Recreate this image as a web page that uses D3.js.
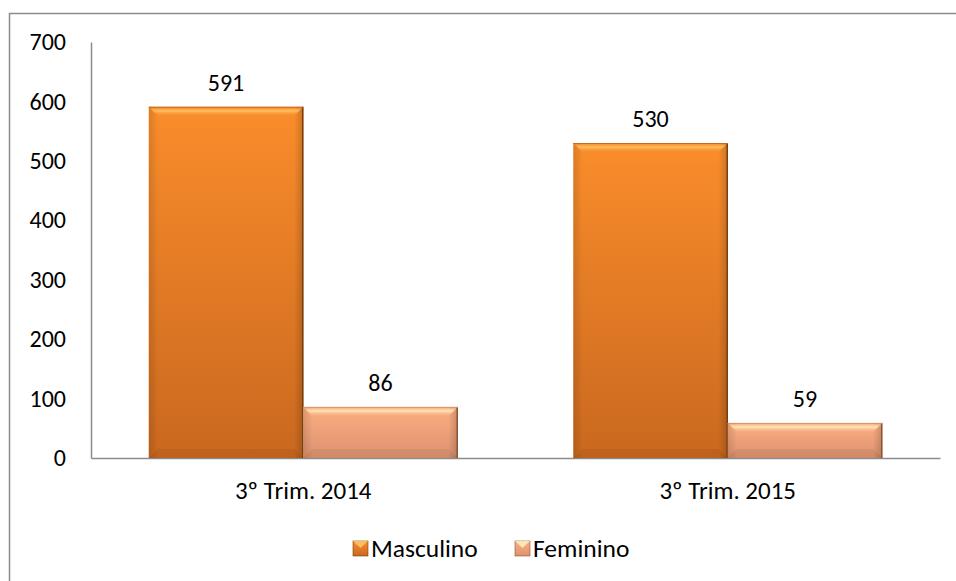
<!DOCTYPE html>
<meta charset="utf-8">
<title>Masculino / Feminino</title>

<style>
body { margin: 0; background: #fff; }
text { font-family: Carlito, Calibri, Lato, sans-serif; fill: #000; }
.axis path { stroke: #8c8c8c; stroke-width: 1.5; }
.axis text { font-size: 24px; }
.axis--x text { font-size: 25px; }
.val { font-size: 24px; text-anchor: middle; }
.legend text { font-size: 25.5px; }
</style>

<body>
<svg width="956" height="581"></svg>

<script src="https://d3js.org/d3.v7.min.js"></script>

<script>

var categories = ["3º Trim. 2014", "3º Trim. 2015"];
var seriesNames = ["Masculino", "Feminino"];
var masculino = [591, 530];
var feminino = [86, 59];
var yTicks = [0, 100, 200, 300, 400, 500, 600, 700];

var colors = {
  Masculino: {top: "#fa8d2b", bottom: "#c9681f", hi: "#fdc86c", edge: "#7a3f0e"},
  Feminino:  {top: "#fdae80", bottom: "#dc9270", hi: "#fff0c0", edge: "#8a5434"}
};

var svg = d3.select("svg");

// outer chart border (runs off right/bottom like the original)
svg.append("rect")
    .attr("x", 9.5).attr("y", 13.5)
    .attr("width", 980).attr("height", 620)
    .attr("fill", "none")
    .attr("stroke", "#8c8c8c")
    .attr("stroke-width", 1.5);

var defs = svg.append("defs");
seriesNames.forEach(function(s) {
  var g = defs.append("linearGradient")
      .attr("id", "grad-" + s)
      .attr("x1", 0).attr("y1", 0).attr("x2", 0).attr("y2", 1);
  g.append("stop").attr("offset", "0%").attr("stop-color", colors[s].top);
  g.append("stop").attr("offset", "100%").attr("stop-color", colors[s].bottom);
  var h = defs.append("linearGradient")
      .attr("id", "side-" + s)
      .attr("x1", 0).attr("y1", 0).attr("x2", 1).attr("y2", 0);
  h.append("stop").attr("offset", "0%").attr("stop-color", "#000").attr("stop-opacity", 0.12);
  h.append("stop").attr("offset", "6%").attr("stop-color", "#000").attr("stop-opacity", 0);
  h.append("stop").attr("offset", "94%").attr("stop-color", "#000").attr("stop-opacity", 0);
  h.append("stop").attr("offset", "100%").attr("stop-color", "#000").attr("stop-opacity", 0.18);
  var t = defs.append("linearGradient")
      .attr("id", "hi-" + s)
      .attr("x1", 0).attr("y1", 0).attr("x2", 0).attr("y2", 1);
  t.append("stop").attr("offset", "0%").attr("stop-color", colors[s].top).attr("stop-opacity", 0.3);
  t.append("stop").attr("offset", "45%").attr("stop-color", colors[s].hi).attr("stop-opacity", 0.9);
  t.append("stop").attr("offset", "100%").attr("stop-color", colors[s].top).attr("stop-opacity", 0.2);
});

var x0 = d3.scaleBand().domain(categories).range([91, 940]);
var x1 = d3.scaleBand().domain(seriesNames).range([0, x0.bandwidth()])
    .paddingInner(0).paddingOuter(0.374);
var y = d3.scaleLinear().domain([0, 700]).range([458, 42]);

var data = [];
categories.forEach(function(c, i) {
  data.push({cat: c, s: "Masculino", v: masculino[i]});
  data.push({cat: c, s: "Feminino", v: feminino[i]});
});

// axes
svg.append("g")
    .attr("class", "axis")
    .attr("transform", "translate(91,0)")
    .call(d3.axisLeft(y).tickValues(yTicks).tickSize(0).tickSizeOuter(0).tickPadding(25));

svg.append("g")
    .attr("class", "axis axis--x")
    .attr("transform", "translate(0," + y(0) + ")")
    .call(d3.axisBottom(x0).tickSize(0).tickSizeOuter(0).tickPadding(23));

// bars
var bars = svg.append("g").selectAll("g")
  .data(data)
  .enter().append("g");

bars.each(function(d) {
  var g = d3.select(this);
  var bx = x0(d.cat) + x1(d.s), bw = x1.bandwidth();
  var by = y(d.v), bh = y(0) - y(d.v);
  var b = 9;
  g.append("rect")
      .attr("x", bx).attr("y", by).attr("width", bw).attr("height", bh)
      .attr("fill", "url(#grad-" + d.s + ")");
  g.append("rect")
      .attr("x", bx).attr("y", by).attr("width", bw).attr("height", bh)
      .attr("fill", "url(#side-" + d.s + ")");
  // top bevel highlight
  g.append("polygon")
      .attr("points", [[bx, by], [bx + bw, by], [bx + bw - b, by + b], [bx + b, by + b]].join(" "))
      .attr("fill", "url(#hi-" + d.s + ")");
  // bottom bevel shade
  g.append("polygon")
      .attr("points", [[bx, by + bh], [bx + bw, by + bh], [bx + bw - b, by + bh - b], [bx + b, by + bh - b]].join(" "))
      .attr("fill", "#000")
      .attr("opacity", 0.06);
  // dark right edge
  g.append("line")
      .attr("x1", bx + bw - 0.5).attr("x2", bx + bw - 0.5)
      .attr("y1", by).attr("y2", by + bh)
      .attr("stroke", colors[d.s].edge).attr("stroke-width", 1.5);
  g.append("line")
      .attr("x1", bx).attr("x2", bx + bw)
      .attr("y1", by + 0.5).attr("y2", by + 0.5)
      .attr("stroke", colors[d.s].bottom).attr("stroke-width", 1);
  g.append("text")
      .attr("class", "val")
      .attr("x", bx + bw / 2)
      .attr("y", by - 16)
      .text(d.v);
});

// legend
var legend = svg.append("g").attr("class", "legend");
var legX = [353, 515];
seriesNames.forEach(function(s, i) {
  var lg = legend.append("g").attr("transform", "translate(" + legX[i] + ",541)");
  lg.append("rect").attr("width", 15).attr("height", 15)
      .attr("fill", "url(#grad-" + s + ")")
      .attr("stroke", colors[s].edge).attr("stroke-width", 0.6);
  lg.append("polygon")
      .attr("points", "0,0 15,0 7.5,7").attr("fill", colors[s].hi).attr("opacity", 0.85);
  lg.append("text").attr("x", 18).attr("y", 7.5).attr("dy", "0.35em").text(s);
});

</script>
</body>
